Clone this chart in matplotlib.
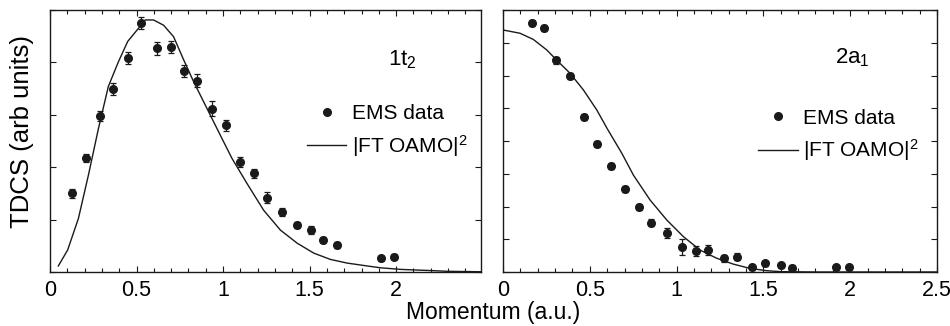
import numpy as np
import matplotlib
matplotlib.use('Agg')
import matplotlib.pyplot as plt
from matplotlib.ticker import MultipleLocator, FormatStrFormatter

plt.rcParams['font.family'] = ['Liberation Sans', 'DejaVu Sans']
plt.rcParams['mathtext.fontset'] = 'custom'
plt.rcParams['mathtext.rm'] = 'Liberation Sans'
plt.rcParams['mathtext.it'] = 'Liberation Sans'

# 1t2 orbital - measured points
p_1t2 = [0.129, 0.208, 0.289, 0.366, 0.449, 0.527, 0.619, 0.698, 0.777, 0.849, 0.936,
         1.019, 1.096, 1.181, 1.254, 1.341, 1.428, 1.508, 1.576, 1.659, 1.910, 1.987]
y_1t2 = [1.50, 2.17, 2.98, 3.49, 4.08, 4.75, 4.27, 4.29, 3.84, 3.65, 3.12,
         2.80, 2.10, 1.88, 1.42, 1.14, 0.90, 0.80, 0.61, 0.52, 0.26, 0.29]
e_1t2 = [0.08, 0.08, 0.09, 0.11, 0.11, 0.12, 0.12, 0.12, 0.11, 0.12, 0.14,
         0.10, 0.10, 0.09, 0.10, 0.08, 0.06, 0.08, 0.06, 0.06, 0.05, 0.05]

# 1t2 orbital - theory curve
q_1t2 = [0.048, 0.102, 0.164, 0.222, 0.280, 0.337, 0.395, 0.449, 0.511, 0.550, 0.598,
         0.656, 0.714, 0.772, 0.830, 0.907, 0.984, 1.051, 1.138, 1.234, 1.331, 1.428,
         1.524, 1.620, 1.717, 1.833, 1.910, 2.025, 2.100, 2.218, 2.296, 2.490]
t_1t2 = [0.115, 0.42, 1.02, 1.85, 2.74, 3.54, 4.01, 4.40, 4.65, 4.81, 4.81,
         4.71, 4.49, 4.05, 3.63, 3.12, 2.61, 2.17, 1.69, 1.18, 0.80, 0.55,
         0.36, 0.24, 0.17, 0.115, 0.08, 0.05, 0.04, 0.025, 0.013, 0.005]

# 2a1 orbital - measured points
p_2a1 = [0.167, 0.236, 0.305, 0.384, 0.466, 0.544, 0.624, 0.703, 0.785, 0.854, 0.943,
         1.031, 1.112, 1.181, 1.273, 1.350, 1.432, 1.507, 1.600, 1.667, 1.918, 1.995]
y_2a1 = [7.60, 7.45, 6.46, 5.98, 4.73, 3.91, 3.23, 2.53, 1.99, 1.51, 1.19,
         0.76, 0.64, 0.67, 0.42, 0.47, 0.14, 0.26, 0.20, 0.13, 0.14, 0.14]
e_2a1 = [0.10, 0.10, 0.10, 0.10, 0.10, 0.10, 0.10, 0.10, 0.10, 0.10, 0.15,
         0.25, 0.15, 0.15, 0.10, 0.10, 0.08, 0.08, 0.08, 0.08, 0.08, 0.08]

# 2a1 orbital - theory curve
q_2a1 = [0.0, 0.098, 0.175, 0.252, 0.309, 0.386, 0.463, 0.540, 0.600, 0.685, 0.751,
         0.847, 0.943, 1.039, 1.135, 1.231, 1.327, 1.423, 1.519, 1.600, 1.800, 2.100, 2.500]
t_2a1 = [7.39, 7.29, 7.10, 6.78, 6.47, 6.07, 5.56, 4.95, 4.38, 3.62, 2.96,
         2.20, 1.59, 1.08, 0.67, 0.42, 0.24, 0.11, 0.04, 0.01, 0.0, 0.0, 0.0]

fig = plt.figure(figsize=(9.5, 3.26), dpi=100)
ax1 = fig.add_axes([50/950, 1 - 272/326, 431/950, 262/326])
ax2 = fig.add_axes([503/950, 1 - 272/326, 434/950, 262/326])

c = '#1a1a1a'
panels = [
    (ax1, p_1t2, y_1t2, e_1t2, q_1t2, t_1t2, (0, 2.49), (0, 5), r'1t$_2$', (0.784, 0.79), (0.596, 0.64)),
    (ax2, p_2a1, y_2a1, e_2a1, q_2a1, t_2a1, (0, 2.5), (0, 8), r'2a$_1$', (0.765, 0.798), (0.588, 0.623)),
]
for ax, px, py, pe, qx, qy, xl, yl, name, npos, lpos in panels:
    ax.errorbar(px, py, yerr=pe, fmt='none', ecolor=c, elinewidth=0.9, capsize=2.5, capthick=0.9)
    ax.plot(px, py, 'o', color=c, ms=5.5, label='EMS data', zorder=3)
    ax.plot(qx, qy, '-', color=c, lw=1.0, label=r'|FT OAMO|$^2$')
    ax.set_xlim(*xl)
    ax.set_ylim(*yl)
    ax.xaxis.set_major_locator(MultipleLocator(0.5))
    ax.xaxis.set_minor_locator(MultipleLocator(0.1))
    ax.xaxis.set_major_formatter(FormatStrFormatter('%g'))
    ax.yaxis.set_major_locator(MultipleLocator(1))
    ax.tick_params(which='both', direction='in', top=True, right=True, color=c, width=0.8)
    ax.tick_params(which='major', length=4, labelsize=15.5, pad=6)
    ax.tick_params(which='minor', length=3)
    ax.tick_params(axis='y', labelleft=False, length=4)
    for s in ax.spines.values():
        s.set_linewidth(1.0)
        s.set_color(c)
    ax.text(npos[0], npos[1], name, transform=ax.transAxes, fontsize=16, va='baseline')
    ax.legend(loc='upper left', bbox_to_anchor=lpos, frameon=False, fontsize=15,
              handlelength=1.9, handletextpad=0.25, labelspacing=0.45, borderpad=0,
              borderaxespad=0, numpoints=1)

ax1.set_ylabel('TDCS (arb units)', fontsize=18.5, va='center')
ax1.yaxis.set_label_coords(-0.065, 0.538)
fig.text(493/950, 13/326, 'Momentum (a.u.)', ha='center', va='center', fontsize=16.5)

fig.savefig('out.png', dpi=100)
